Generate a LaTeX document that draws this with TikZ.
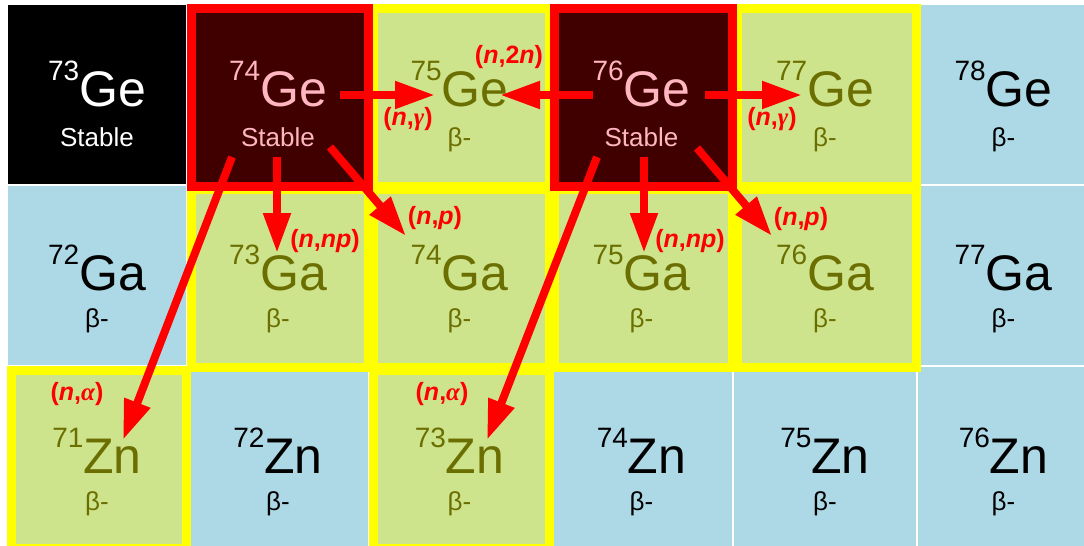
\documentclass[tikz,border=0pt]{standalone}
\usepackage{fontspec}
\setmainfont{Liberation Sans}
\newfontfamily\grkfont{Liberation Serif}
\usetikzlibrary{arrows.meta}
\definecolor{cblue}{RGB}{173,216,230}
\definecolor{cgreen}{RGB}{206,228,140}
\definecolor{cdark}{RGB}{64,0,0}
\definecolor{colive}{RGB}{107,110,0}
\definecolor{cpink}{RGB}{255,182,193}
\definecolor{cyel}{RGB}{255,255,0}
\definecolor{cred}{RGB}{255,0,0}
\newcommand{\isolab}[2]{\raisebox{26pt}{\fontsize{28}{28}\selectfont #1}\fontsize{50}{50}\selectfont #2}
\newcommand{\rn}{\textit{n}}
\newcommand{\rgrk}[1]{{\grkfont\bfseries\itshape #1}}
\begin{document}
\begin{tikzpicture}[x=1pt,y=-1pt,
  isotext/.style={anchor=base,inner sep=0pt},
  sectext/.style={anchor=base,inner sep=0pt,font=\fontsize{26}{26}\selectfont},
  ybox/.style={draw=cyel,line width=9pt},
  rbox/.style={draw=cred,line width=9pt},
  rarrow/.style={draw=cred,line width=8pt,-{Triangle[length=40pt,width=26pt]}},
  rlab/.style={text=cred,inner sep=0pt,font=\fontsize{25}{25}\selectfont\bfseries}]
\useasboundingbox (0,0) rectangle (1084,546);
\fill[white] (0,0) rectangle (1084,546);
% cells
\foreach \c/\r/\fc/\tc/\m/\el/\st in {
 0/0/black/white/73/Ge/Stable, 1/0/cdark/cpink/74/Ge/Stable, 2/0/cgreen/colive/75/Ge/β-,
 3/0/cdark/cpink/76/Ge/Stable, 4/0/cgreen/colive/77/Ge/β-, 5/0/cblue/black/78/Ge/β-,
 0/1/cblue/black/72/Ga/β-, 1/1/cgreen/colive/73/Ga/β-, 2/1/cgreen/colive/74/Ga/β-,
 3/1/cgreen/colive/75/Ga/β-, 4/1/cgreen/colive/76/Ga/β-, 5/1/cblue/black/77/Ga/β-,
 0/2/cgreen/colive/71/Zn/β-, 1/2/cblue/black/72/Zn/β-, 2/2/cgreen/colive/73/Zn/β-,
 3/2/cblue/black/74/Zn/β-, 4/2/cblue/black/75/Zn/β-, 5/2/cblue/black/76/Zn/β-}{
  \pgfmathsetmacro{\xa}{{7,187,369,550,733,917}[\c]+1}
  \pgfmathsetmacro{\xb}{{187,369,550,733,917,1090}[\c]-1}
  \pgfmathsetmacro{\ya}{{4,185,366}[\r]+1}
  \pgfmathsetmacro{\yb}{{185,366,547}[\r]-1}
  \pgfmathsetmacro{\ba}{{106,290,473}[\r]}
  \pgfmathsetmacro{\bb}{{146,327,510}[\r]}
  \pgfmathsetmacro{\xc}{(\xa+\xb)/2}
  \fill[\fc] (\xa,\ya) rectangle (\xb,\yb);
  \node[isotext,text=\tc] (iso\m\el) at (\xc,\ba) {\isolab{\m}{\el}};
  \node[sectext,text=\tc] (st\m\el) at (\xc,\bb) {\st};
}
% highlight borders
\foreach \c/\r in {2/0,4/0,1/1,2/1,3/1,4/1,0/2,2/2}{
  \pgfmathsetmacro{\xa}{{7,187,369,550,733,917}[\c]+4.5}
  \pgfmathsetmacro{\xb}{{187,369,550,733,917,1090}[\c]-0.5}
  \pgfmathsetmacro{\ya}{{4,185,366}[\r]+4.5}
  \pgfmathsetmacro{\yb}{{185,366,547}[\r]+1.5}
  \draw[ybox] (\xa,\ya) rectangle (\xb,\yb);
}
\draw[rbox] (191.5,8.5) rectangle (368.5,186.5);
\draw[rbox] (554.5,8.5) rectangle (732.5,186.5);
% arrow end points
\coordinate (s1) at (340,95);  \coordinate (t1) at (435,95);
\coordinate (s2) at (593,95);  \coordinate (t2) at (500,95);
\coordinate (s3) at (705,95);  \coordinate (t3) at (802,95);
\coordinate (s4) at (277,157); \coordinate (t4) at (277,253);
\coordinate (s5) at (330,147); \coordinate (t5) at (406,236);
\coordinate (s6) at (232,157); \coordinate (t6) at (123,440);
\coordinate (s7) at (644,157); \coordinate (t7) at (644,253);
\coordinate (s8) at (697,148); \coordinate (t8) at (772,236);
\coordinate (s9) at (597,157); \coordinate (t9) at (487,440);
\foreach \i in {1,...,9}{ \draw[rarrow] (s\i) -- (t\i); }
% reaction labels
\node[rlab] (l1) at (408,119) {(\rn,\rgrk{γ})};
\node[rlab] (l2) at (509,57) {(\rn,2\rn)};
\node[rlab] (l3) at (772,119) {(\rn,\rgrk{γ})};
\node[rlab] (l4) at (325,241) {(\rn,\rn\textit{p})};
\node[rlab] (l5) at (435,218) {(\rn,\textit{p})};
\node[rlab] (l6) at (690,241) {(\rn,\rn\textit{p})};
\node[rlab] (l7) at (801,219) {(\rn,\textit{p})};
\node[rlab] (l8) at (77,394) {(\rn,\rgrk{α})};
\node[rlab] (l9) at (442,394) {(\rn,\rgrk{α})};
\end{tikzpicture}
\end{document}
